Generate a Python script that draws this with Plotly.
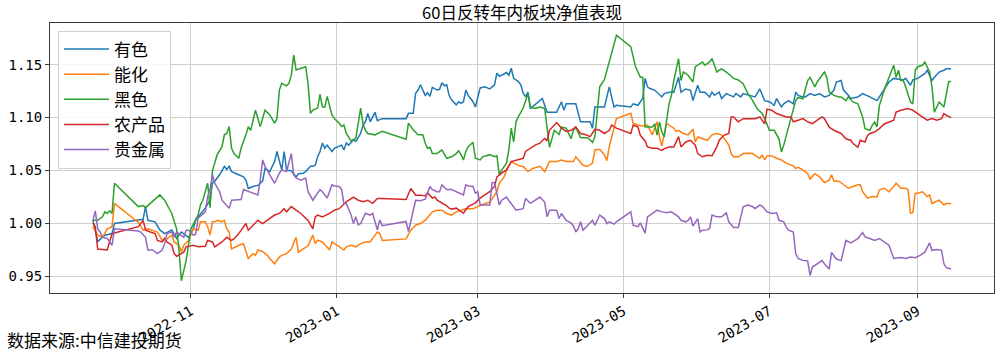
import pandas as pd
import plotly.graph_objects as go

# ---------------- data (day offset from START, net value) ----------------
START = "2022-09-21"
title_text = "60日反转年内板块净值表现"
source_text = "数据来源:中信建投期货"
series_names = ["有色", "能化", "黑色", "农产品", "贵金属"]
series_colors = ["#1f77b4", "#ff7f0e", "#2ca02c", "#d62728", "#9467bd"]
tick_dates = ["2022-11-01", "2023-01-01", "2023-03-01", "2023-05-01", "2023-07-01", "2023-09-01"]
tick_labels = ["2022-11", "2023-01", "2023-03", "2023-05", "2023-07", "2023-09"]
y_ticks = [0.95, 1.00, 1.05, 1.10, 1.15]

youse = [(0,1.003),(2,0.983),(5,0.989),(8,0.9905),(9,1.000),(19,1.003),(21,1.004),(22,1.016),(23,1.003),(26,1.0016),(28,0.994),(30,0.9905),(33,0.994),(35,0.986),(37,0.992),(40,0.987),(42,0.995),(43,1.0035),(44,1.006),(47,1.0145),(49,1.022),(50,1.038),(51,1.040),(53,1.046),(55,1.054),(56,1.051),(57,1.054),(58,1.049),(61,1.046),(63,1.044),(64,1.041),(65,1.033),(67,1.035),(69,1.036),(71,1.040),(72,1.052),(74,1.049),(75,1.054),(76,1.0585),(77,1.068),(78,1.0585),(79,1.0505),(80,1.068),(81,1.0505),(83,1.0497),(85,1.044),(86,1.047),(88,1.0475),(89,1.049),(91,1.054),(92,1.054),(93,1.055),(94,1.063),(95,1.068),(96,1.076),(97,1.071),(98,1.074),(100,1.068),(101,1.071),(103,1.0726),(104,1.074),(105,1.0695),(106,1.076),(107,1.074),(109,1.079),(110,1.0774),(112,1.085),(113,1.093),(114,1.096),(115,1.104),(116,1.096),(118,1.105),(119,1.097),(121,1.099),(131,1.099),(132,1.104),(134,1.104),(135,1.123),(136,1.126),(137,1.131),(138,1.126),(139,1.121),(140,1.1235),(141,1.120),(142,1.1286),(144,1.126),(145,1.1267),(146,1.133),(147,1.130),(148,1.131),(149,1.121),(150,1.1167),(152,1.112),(153,1.115),(154,1.1135),(155,1.115),(156,1.126),(157,1.121),(158,1.118),(159,1.115),(160,1.110),(161,1.120),(162,1.128),(164,1.129),(166,1.127),(167,1.129),(168,1.131),(169,1.142),(170,1.139),(171,1.140),(173,1.1425),(174,1.140),(175,1.1466),(176,1.137),(177,1.1355),(178,1.134),(179,1.131),(180,1.123),(181,1.1195),(182,1.124),(183,1.1085),(185,1.112),(188,1.118),(190,1.105),(194,1.105),(196,1.115),(197,1.107),(198,1.113),(202,1.113),(204,1.096),(208,1.096),(209,1.090),(210,1.110),(211,1.110),(214,1.110),(216,1.129),(218,1.110),(219,1.1116),(225,1.110),(226,1.113),(228,1.1116),(230,1.118),(231,1.137),(232,1.129),(233,1.1274),(235,1.126),(238,1.1195),(239,1.1226),(241,1.124),(243,1.124),(245,1.138),(246,1.124),(248,1.127),(250,1.1257),(251,1.116),(253,1.1305),(254,1.124),(256,1.124),(258,1.1195),(259,1.124),(260,1.121),(262,1.124),(263,1.118),(265,1.1226),(268,1.1195),(269,1.1226),(271,1.1195),(272,1.1226),(275,1.121),(277,1.1195),(279,1.127),(281,1.116),(283,1.115),(285,1.1116),(286,1.118),(288,1.110),(289,1.113),(291,1.116),(293,1.113),(294,1.124),(295,1.121),(297,1.1195),(298,1.1195),(300,1.1226),(302,1.121),(304,1.1226),(306,1.1195),(308,1.121),(310,1.126),(311,1.1336),(313,1.135),(314,1.126),(316,1.121),(317,1.118),(320,1.1195),(321,1.121),(322,1.1226),(325,1.1195),(328,1.116),(329,1.1195),(331,1.126),(333,1.1336),(335,1.137),(338,1.1355),(339,1.1355),(340,1.137),(342,1.1305),(343,1.1355),(345,1.137),(347,1.140),(348,1.1415),(349,1.1447),(351,1.135),(352,1.138),(354,1.143),(356,1.1447),(357,1.146),(359,1.146)]

nenghua = [(0,0.997),(2,0.989),(4,0.987),(6,0.995),(8,0.997),(9,1.019),(19,1.001),(21,0.9937),(23,0.995),(25,0.9937),(27,0.992),(29,0.984),(31,0.9855),(33,0.989),(34,0.9826),(36,0.9795),(37,0.973),(38,0.9795),(40,0.984),(42,0.995),(44,0.9937),(45,1.0016),(47,1.0016),(48,0.997),(49,0.989),(50,1.0016),(51,1.0016),(52,1.003),(54,1.0016),(55,1.003),(56,0.995),(57,0.992),(58,0.976),(61,0.9795),(63,0.981),(65,0.967),(67,0.9716),(68,0.970),(69,0.975),(71,0.9735),(73,0.970),(74,0.967),(76,0.962),(78,0.9684),(79,0.970),(81,0.9716),(83,0.976),(85,0.987),(86,0.973),(88,0.976),(90,0.979),(92,0.989),(93,0.981),(94,0.9843),(96,0.9826),(99,0.975),(100,0.9826),(102,0.9795),(105,0.975),(106,0.978),(108,0.9795),(110,0.978),(112,0.981),(114,0.9826),(116,0.9826),(117,0.986),(119,0.992),(120,0.9905),(121,0.984),(131,0.9855),(133,0.9937),(135,0.9984),(137,1.000),(139,1.003),(142,1.011),(144,1.0126),(146,1.0126),(148,1.0095),(150,1.008),(152,1.011),(154,1.0126),(156,1.014),(159,1.014),(160,1.015),(162,1.0174),(164,1.019),(166,1.020),(169,1.030),(170,1.038),(172,1.044),(173,1.050),(175,1.0585),(176,1.057),(178,1.055),(179,1.054),(180,1.0538),(182,1.049),(184,1.052),(187,1.054),(189,1.049),(191,1.0585),(194,1.0585),(196,1.060),(198,1.0585),(201,1.0585),(202,1.063),(204,1.057),(205,1.055),(207,1.054),(209,1.057),(210,1.0695),(212,1.070),(214,1.0647),(215,1.0594),(216,1.0726),(217,1.082),(219,1.099),(225,1.104),(226,1.0947),(228,1.093),(230,1.092),(232,1.093),(234,1.0837),(236,1.096),(237,1.082),(238,1.0733),(240,1.0947),(241,1.093),(243,1.090),(244,1.0868),(245,1.088),(247,1.085),(249,1.0837),(251,1.089),(252,1.077),(253,1.0817),(255,1.080),(257,1.0786),(259,1.0837),(261,1.085),(263,1.0837),(264,1.0805),(266,1.074),(267,1.066),(268,1.063),(270,1.063),(272,1.066),(274,1.0664),(276,1.066),(278,1.063),(279,1.0616),(280,1.0645),(281,1.060),(282,1.0638),(284,1.0638),(286,1.0616),(288,1.060),(290,1.057),(293,1.0544),(294,1.052),(295,1.053),(297,1.0506),(299,1.047),(300,1.042),(302,1.047),(304,1.044),(306,1.0387),(308,1.041),(309,1.046),(310,1.040),(312,1.040),(313,1.0385),(315,1.035),(316,1.0333),(318,1.035),(320,1.0365),(321,1.0365),(322,1.030),(324,1.024),(326,1.0255),(328,1.025),(329,1.0318),(331,1.0333),(332,1.0318),(333,1.030),(335,1.035),(336,1.038),(338,1.0333),(340,1.0333),(341,1.032),(342,1.0097),(343,1.0105),(344,1.0286),(345,1.0286),(347,1.030),(349,1.0255),(350,1.027),(351,1.019),(353,1.0205),(354,1.022),(356,1.0174),(357,1.019),(359,1.019)]

heise = [(0,1.003),(2,1.003),(4,1.0063),(5,1.011),(6,1.0095),(7,1.012),(8,1.0095),(9,1.038),(19,1.016),(21,1.017),(22,1.015),(24,1.019),(28,1.027),(30,1.022),(33,1.0095),(35,0.995),(36,0.975),(37,0.946),(39,0.965),(41,0.995),(44,1.008),(45,1.0176),(46,1.022),(48,1.038),(49,1.015),(50,1.050),(51,1.058),(52,1.065),(54,1.0726),(55,1.0837),(56,1.085),(57,1.0915),(58,1.071),(59,1.066),(61,1.0616),(62,1.071),(64,1.0837),(65,1.0915),(66,1.088),(67,1.099),(68,1.107),(70,1.0915),(72,1.107),(74,1.1025),(76,1.0947),(77,1.099),(78,1.126),(79,1.1324),(81,1.130),(82,1.1324),(83,1.140),(84,1.159),(85,1.145),(89,1.148),(90,1.1324),(91,1.104),(92,1.107),(94,1.109),(95,1.122),(96,1.110),(97,1.110),(98,1.120),(99,1.110),(100,1.1025),(101,1.099),(103,1.0947),(104,1.0915),(105,1.093),(106,1.085),(108,1.078),(110,1.0805),(111,1.0947),(112,1.109),(113,1.094),(114,1.088),(115,1.085),(118,1.0837),(121,1.087),(131,1.0796),(132,1.0947),(134,1.0884),(136,1.0837),(138,1.0837),(139,1.076),(140,1.071),(141,1.072),(142,1.066),(144,1.066),(146,1.0695),(148,1.0616),(150,1.063),(152,1.066),(153,1.0686),(154,1.065),(155,1.060),(156,1.068),(157,1.0726),(159,1.0767),(160,1.0616),(162,1.060),(163,1.063),(166,1.065),(168,1.063),(169,1.064),(170,1.046),(171,1.0505),(173,1.057),(174,1.0695),(175,1.090),(176,1.077),(177,1.096),(178,1.101),(179,1.1057),(180,1.109),(182,1.1226),(183,1.110),(185,1.1085),(187,1.110),(189,1.1085),(191,1.072),(193,1.088),(195,1.084),(196,1.091),(198,1.090),(200,1.080),(201,1.088),(202,1.091),(204,1.081),(207,1.081),(209,1.0765),(210,1.082),(212,1.129),(214,1.136),(215,1.1447),(217,1.162),(219,1.1777),(225,1.167),(227,1.148),(229,1.138),(230,1.138),(231,1.091),(232,1.091),(234,1.091),(235,1.094),(236,1.0834),(237,1.0959),(238,1.0865),(239,1.0818),(241,1.113),(242,1.121),(243,1.135),(245,1.1557),(246,1.135),(247,1.143),(249,1.140),(251,1.1336),(252,1.148),(254,1.151),(255,1.1525),(256,1.1494),(258,1.1525),(259,1.1557),(261,1.143),(262,1.1447),(263,1.146),(265,1.143),(268,1.137),(270,1.1355),(272,1.132),(274,1.1226),(276,1.116),(278,1.108),(280,1.1038),(281,1.099),(283,1.088),(285,1.088),(287,1.080),(288,1.0676),(289,1.074),(291,1.091),(293,1.1069),(294,1.116),(295,1.119),(297,1.1178),(299,1.135),(300,1.138),(302,1.129),(303,1.1336),(305,1.140),(306,1.143),(307,1.138),(308,1.124),(310,1.121),(312,1.1195),(313,1.1195),(315,1.116),(316,1.1195),(318,1.1148),(320,1.113),(322,1.1006),(323,1.0896),(325,1.088),(326,1.0927),(327,1.0959),(328,1.0912),(329,1.1116),(331,1.126),(333,1.138),(335,1.1494),(336,1.138),(337,1.1447),(338,1.135),(339,1.135),(340,1.129),(342,1.1147),(343,1.113),(344,1.1447),(345,1.148),(347,1.1494),(348,1.1525),(350,1.143),(351,1.129),(352,1.105),(353,1.110),(354,1.1147),(356,1.110),(357,1.123),(358,1.134),(359,1.134)]

nongchanpin = [(0,1.0006),(1,0.997),(2,0.976),(6,0.975),(7,0.983),(8,0.990),(9,0.991),(19,0.997),(21,1.003),(22,0.9937),(24,0.992),(26,0.9905),(27,0.984),(29,0.9826),(30,0.986),(31,0.9826),(33,0.9795),(34,0.9716),(35,0.969),(38,0.973),(39,0.978),(42,0.9795),(44,0.978),(47,0.9785),(48,0.984),(50,0.9826),(51,0.978),(53,0.981),(54,0.9826),(56,0.987),(58,0.984),(59,0.9855),(61,0.9905),(64,1.000),(65,0.9937),(67,0.9984),(69,1.003),(71,1.000),(74,1.0047),(76,1.008),(78,1.0095),(80,1.014),(81,1.011),(83,1.016),(85,1.0126),(87,1.0095),(90,1.003),(92,0.995),(93,1.0063),(94,1.008),(96,1.0063),(99,1.0095),(101,1.0126),(103,1.014),(106,1.0205),(109,1.025),(111,1.022),(113,1.0205),(115,1.022),(117,1.019),(119,1.0237),(121,1.0237),(131,1.0227),(133,1.033),(135,1.0268),(137,1.0268),(139,1.026),(140,1.029),(142,1.024),(143,1.025),(144,1.022),(146,1.0195),(148,1.0167),(149,1.0145),(150,1.0136),(152,1.0145),(153,1.013),(155,1.0097),(156,1.013),(157,1.016),(160,1.0195),(162,1.024),(164,1.027),(166,1.030),(168,1.035),(169,1.044),(171,1.0475),(173,1.0506),(175,1.0585),(178,1.060),(180,1.0616),(181,1.068),(182,1.0695),(183,1.071),(185,1.074),(187,1.0758),(189,1.0805),(190,1.078),(191,1.088),(194,1.0953),(196,1.090),(198,1.087),(200,1.088),(202,1.091),(204,1.085),(206,1.084),(208,1.082),(210,1.089),(212,1.088),(214,1.085),(216,1.088),(217,1.093),(219,1.090),(225,1.085),(226,1.093),(227,1.092),(228,1.091),(229,1.0833),(231,1.078),(232,1.0723),(234,1.071),(236,1.071),(238,1.069),(239,1.0707),(241,1.0723),(243,1.0723),(245,1.082),(246,1.0723),(248,1.077),(250,1.0786),(252,1.074),(253,1.066),(255,1.063),(257,1.0645),(259,1.064),(261,1.0723),(262,1.0786),(264,1.0833),(266,1.085),(267,1.1006),(268,1.1006),(270,1.096),(272,1.099),(274,1.099),(277,1.099),(279,1.1006),(280,1.0975),(281,1.094),(282,1.108),(284,1.1069),(286,1.1038),(288,1.102),(290,1.1006),(292,1.1006),(293,1.096),(295,1.0975),(297,1.099),(299,1.096),(301,1.0943),(303,1.0975),(305,1.1006),(306,1.099),(308,1.091),(310,1.088),(313,1.085),(315,1.080),(317,1.0786),(318,1.0755),(320,1.072),(321,1.0786),(323,1.077),(324,1.083),(325,1.085),(327,1.0864),(329,1.0896),(331,1.094),(333,1.0959),(335,1.0975),(336,1.1053),(338,1.1069),(341,1.1085),(343,1.1069),(345,1.1038),(347,1.1006),(349,1.0975),(351,1.099),(353,1.0975),(355,1.099),(356,1.1038),(357,1.1022),(359,1.100)]

guijinshu = [(0,1.003),(1,1.012),(2,0.995),(3,0.992),(4,0.987),(6,0.986),(8,0.9795),(9,0.995),(19,0.993),(20,0.992),(22,0.987),(23,0.975),(25,0.975),(27,0.9716),(29,0.975),(30,0.981),(31,0.9905),(33,0.992),(34,0.987),(35,0.992),(38,0.987),(39,0.9937),(40,0.9937),(42,0.989),(43,0.990),(44,1.005),(47,1.011),(48,1.0255),(49,1.032),(50,1.046),(51,1.038),(53,1.030),(54,1.022),(56,1.0176),(57,1.0145),(58,1.022),(60,1.022),(62,1.0226),(63,1.032),(65,1.0305),(67,1.029),(69,1.027),(70,1.041),(71,1.060),(72,1.054),(74,1.046),(75,1.041),(76,1.038),(78,1.0475),(79,1.0506),(81,1.049),(83,1.066),(84,1.046),(85,1.043),(87,1.041),(89,1.043),(90,1.030),(92,1.022),(93,1.0255),(95,1.032),(96,1.030),(98,1.024),(100,1.0365),(101,1.0355),(103,1.035),(104,1.0324),(105,1.019),(106,1.019),(108,1.008),(109,1.000),(110,1.0063),(111,0.9987),(112,1.000),(114,1.0097),(116,1.008),(117,1.0097),(119,0.994),(120,1.0035),(121,0.998),(131,1.002),(132,0.9925),(134,1.013),(135,1.022),(137,1.0215),(139,1.023),(141,1.035),(142,1.032),(144,1.030),(145,1.030),(146,1.0365),(148,1.032),(150,1.032),(152,1.030),(153,1.0286),(155,1.027),(156,1.0365),(157,1.0355),(159,1.035),(160,1.0286),(161,1.030),(162,1.0176),(164,1.0176),(166,1.0176),(167,1.0387),(168,1.0387),(170,1.0176),(171,1.022),(173,1.025),(175,1.019),(177,1.0126),(180,1.014),(181,1.0237),(183,1.019),(185,1.022),(187,1.025),(189,1.020),(190,1.0063),(191,1.0126),(194,1.0126),(195,1.0047),(196,1.0095),(198,1.003),(200,1.0006),(201,0.998),(202,0.992),(203,0.995),(204,1.0016),(205,0.9937),(207,0.9984),(209,1.003),(210,0.9984),(212,1.008),(214,1.0047),(215,1.000),(216,1.0016),(218,0.9994),(219,1.0016),(225,1.011),(226,0.9984),(228,0.997),(229,1.0006),(231,0.991),(232,1.0063),(234,1.0095),(236,1.0126),(238,1.011),(240,1.0101),(242,1.011),(243,1.0095),(245,1.0063),(246,1.003),(248,1.0016),(249,1.003),(250,1.0063),(251,0.9975),(253,1.0047),(254,0.992),(255,0.9937),(257,0.994),(258,0.9953),(259,1.008),(261,1.0063),(263,1.0063),(265,1.010),(266,1.0016),(268,0.9962),(270,0.9962),(272,1.0158),(274,1.0174),(276,1.0158),(277,1.0142),(279,1.0174),(280,1.0164),(282,1.011),(284,1.0095),(286,1.0101),(287,1.003),(289,1.0016),(290,0.9968),(291,0.9937),(293,0.992),(294,0.9716),(295,0.967),(297,0.9652),(299,0.9646),(300,0.951),(301,0.9589),(303,0.962),(305,0.965),(306,0.962),(308,0.957),(309,0.9728),(311,0.9665),(313,0.965),(315,0.984),(317,0.9817),(319,0.984),(320,0.9858),(322,0.9915),(323,0.9874),(325,0.9858),(327,0.984),(329,0.9858),(331,0.9826),(333,0.9795),(335,0.967),(338,0.9678),(340,0.967),(342,0.9684),(344,0.9678),(346,0.970),(348,0.973),(350,0.9817),(351,0.9747),(353,0.9754),(355,0.9747),(356,0.962),(357,0.9583),(359,0.957)]

all_series = [youse, nenghua, heise, nongchanpin, guijinshu]

# ---------------- figure ----------------
start = pd.Timestamp(START)
fig = go.Figure()
all_days, all_vals = [], []
for name, color, pts in zip(series_names, series_colors, all_series):
    days = [p[0] for p in pts]
    vals = [p[1] for p in pts]
    all_days += days
    all_vals += vals
    dates = start + pd.to_timedelta(days, unit="D")
    fig.add_trace(go.Scatter(x=dates, y=vals, mode="lines", name=name,
                             line=dict(color=color, width=1.5)))

# matplotlib-like 5% margins
dmin, dmax = min(all_days), max(all_days)
vmin, vmax = min(all_vals), max(all_vals)
dpad = 0.05 * (dmax - dmin)
vpad = 0.05 * (vmax - vmin)
x_range = [start + pd.Timedelta(days=dmin - dpad), start + pd.Timedelta(days=dmax + dpad)]
y_range = [vmin - vpad, vmax + vpad]

mono = "DejaVu Sans Mono"
cjk = "Noto Sans CJK SC"
axis_col = "#3a3a3a"
grid_col = "#cfcfcf"

fig.update_layout(
    width=1003, height=354,
    margin=dict(l=49, r=8, t=23, b=60),
    paper_bgcolor="white", plot_bgcolor="white",
    font=dict(family=cjk, color="black"),
    title=dict(text=title_text, x=0.5, xref="paper", xanchor="center",
               y=1 - 13 / 354, yref="container", yanchor="middle",
               font=dict(family=cjk, size=16.5, color="black")),
    showlegend=True,
    legend=dict(x=0.0085, y=0.972, xanchor="left", yanchor="top",
                bgcolor="rgba(255,255,255,0.85)", bordercolor="#d0d0d0", borderwidth=1,
                font=dict(family=cjk, size=17, color="black"),
                tracegroupgap=0, itemwidth=45),
    xaxis=dict(type="date", range=x_range,
               tickvals=tick_dates, ticktext=tick_labels, tickangle=-30,
               tickfont=dict(family=mono, size=14, color="black"),
               showgrid=True, gridcolor=grid_col, gridwidth=1,
               showline=True, mirror=True, linecolor=axis_col, linewidth=1,
               ticks="outside", ticklen=4, tickcolor=axis_col, zeroline=False),
    yaxis=dict(range=y_range, tickvals=y_ticks, tickformat=".2f",
               tickfont=dict(family=mono, size=14, color="black"),
               showgrid=True, gridcolor=grid_col, gridwidth=1,
               showline=True, mirror=True, linecolor=axis_col, linewidth=1,
               ticks="outside", ticklen=4, tickcolor=axis_col, zeroline=False),
    annotations=[dict(text=source_text, xref="paper", yref="paper",
                      x=(4 - 49) / 946, y=(294 - 341) / 271,
                      xanchor="left", yanchor="middle", showarrow=False,
                      font=dict(family=cjk, size=17, color="black"))],
)

fig.write_html("out.html", config={"displayModeBar": False})
